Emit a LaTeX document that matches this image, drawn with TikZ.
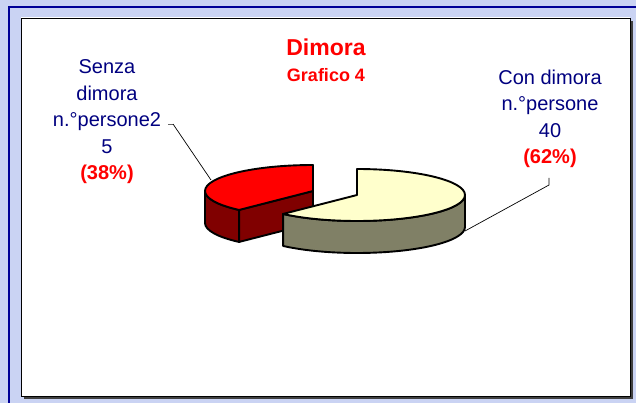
\documentclass[tikz,border=0pt]{standalone}
\usepackage{fontspec}
\setmainfont{Liberation Sans}
\definecolor{navytxt}{RGB}{0,0,128}
\definecolor{bgblue}{RGB}{202,211,243}
\definecolor{framenavy}{RGB}{0,0,150}
\definecolor{midgray}{RGB}{115,115,115}
\definecolor{redside}{RGB}{128,0,0}
\definecolor{creamtop}{RGB}{255,255,204}
\definecolor{creamside}{RGB}{128,128,102}

\begin{document}
\begin{tikzpicture}[x=1pt, y=-1pt,
        lbl/.style={align=center, text=navytxt, inner sep=0pt, font=\fontsize{20}{26.5}\selectfont},
        ttl/.style={text=red, inner sep=0pt},
        slice/.style={draw=black, line width=1.9pt, line join=round},
        leader/.style={draw=black, line width=0.7pt}]
        \useasboundingbox (0,0) rectangle (636,403);
        \fill[bgblue] (0,0) rectangle (636,403);
        \draw[framenavy, line width=2pt] (9,403) -- (9,7) -- (636,7);
        \fill[black!75] (24,21) rectangle (633,399);
        \shade[top color=white, middle color=midgray, bottom color=white] (21,18) rectangle (630,396);
        \draw[black, line width=0.6pt] (21,18) rectangle (630,396);
        \coordinate (rosso) at (313,191);
        \coordinate (crema) at (357,195);
        \filldraw[slice, fill=redside] ([shift={(180:108 and 26)}]rosso) arc[start angle=180, end angle=133.2, x radius=108, y radius=26] -- ++(0,32) arc[start angle=133.2, end angle=180, x radius=108, y radius=26] -- cycle;
        \filldraw[slice, fill=redside] (rosso) -- ([shift={(133.2:108 and 26)}]rosso) -- ++(0,32) -- ([shift={(0,32)}]rosso) -- cycle;
        \filldraw[slice, fill=red] (rosso) -- ([shift={(0,-26)}]rosso) arc[start angle=270, end angle=133.2, x radius=108, y radius=26] -- cycle;
        \filldraw[slice, fill=creamside] ([shift={(0:108 and 26)}]crema) arc[start angle=0, end angle=133.2, x radius=108, y radius=26] -- ++(0,32) arc[start angle=133.2, end angle=0, x radius=108, y radius=26] -- cycle;
        \filldraw[slice, fill=creamtop] (crema) -- ([shift={(0,-26)}]crema) arc[start angle=-90, end angle=133.2, x radius=108, y radius=26] -- cycle;
        \node[ttl, font=\fontsize{23}{27}\selectfont\bfseries] (titolo) at (326,47) {Dimora};
        \node[ttl, font=\fontsize{18}{22}\selectfont\bfseries] (grafico) at (326,75) {Grafico 4};
        \node[lbl] (senza) at (107,122) {Senza\\dimora\\n.°persone2\\5\\\textcolor{red}{\bfseries(38\%)}};
        \node[lbl] (con) at (550,119) {Con dimora\\n.°persone\\40\\\textcolor{red}{\bfseries(62\%)}};
        \coordinate (senzatick) at (168,124);
        \coordinate (senzagancio) at (173,124);
        \coordinate (senzapunta) at (211,180);
        \coordinate (contick) at (549,178);
        \coordinate (congancio) at (549,185);
        \coordinate (conpunta) at (465,231);
        \draw[leader, draw=black!60] (senzatick) -- (senzagancio);
        \draw[leader] (senzagancio) -- (senzapunta);
        \draw[leader] (contick) -- (congancio) -- (conpunta);
    \end{tikzpicture}
\end{document}
